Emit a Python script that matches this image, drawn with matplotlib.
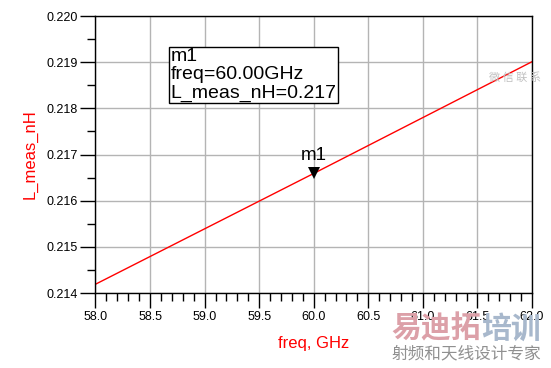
import matplotlib.pyplot as plt
from matplotlib.ticker import MultipleLocator

# values
freq_ghz = [58.0, 59.0, 60.0, 61.0, 62.0]
l_meas_nh = [0.21419, 0.21539, 0.21659, 0.21780, 0.21901]
marker_freq = 60.0
marker_val = 0.21659
marker_lines = ["m1", "freq=60.00GHz", "L_meas_nH=0.217"]

plt.rcParams['font.family'] = ['Liberation Sans', 'DejaVu Sans']

fig = plt.figure(figsize=(5.51, 3.68), dpi=100)
ax = fig.add_axes([0.1733, 0.2038, 0.7922, 0.7527])

ax.plot(freq_ghz, l_meas_nh, color='red', lw=1)

ax.set_xlim(58.0, 62.0)
ax.set_ylim(0.214, 0.220)
ax.xaxis.set_major_locator(MultipleLocator(0.5))
ax.xaxis.set_minor_locator(MultipleLocator(0.1))
ax.yaxis.set_major_locator(MultipleLocator(0.001))
ax.yaxis.set_minor_locator(MultipleLocator(0.0005))
ax.xaxis.set_major_formatter(lambda v, p: f'{v:.1f}')
ax.yaxis.set_major_formatter(lambda v, p: f'{v:.3f}')
ax.tick_params(which='major', length=11, width=1, labelsize=9, direction='out', pad=2)
ax.tick_params(which='minor', length=6, width=1, direction='out')
ax.grid(True, which='major', color='#b4b4b4', lw=1)
for s in ax.spines.values():
    s.set_color('black')
    s.set_linewidth(1)

ax.set_xlabel('freq, GHz', color='red', fontsize=12, labelpad=9)
ax.set_ylabel('L_meas_nH', color='red', fontsize=12, labelpad=6)

# marker m1
ax.plot([marker_freq], [marker_val], marker='v', color='black', ms=8,
        zorder=5, markeredgewidth=0)
ax.annotate('m1', (marker_freq, marker_val), xytext=(0, 7), textcoords='offset points',
            ha='center', va='bottom', fontsize=13.5)
ax.text(58.69, 0.21930, '\n'.join(marker_lines), fontsize=14, va='top', ha='left',
        linespacing=1.08,
        bbox=dict(boxstyle='square,pad=0.08', fc='white', ec='black', lw=1))

# watermark text
cjk = ['Noto Sans CJK SC', 'DejaVu Sans']
fig.text(0.711, 0.066, '易迪拓', color='#dca0a8', fontsize=21.5, family=cjk,
         fontweight='bold', ha='left', va='bottom')
fig.text(0.874, 0.066, '培训', color='#a8b8cc', fontsize=21.5, family=cjk,
         fontweight='bold', ha='left', va='bottom')
fig.text(0.711, 0.014, '射频和天线设计专家', color='#909090', fontsize=12, family=cjk,
         ha='left', va='bottom')
fig.text(0.935, 0.79, '微 信 联 系', color='#c0c0c0', fontsize=8, family=cjk,
         ha='center', va='center')

fig.savefig('out.png', dpi=100)
